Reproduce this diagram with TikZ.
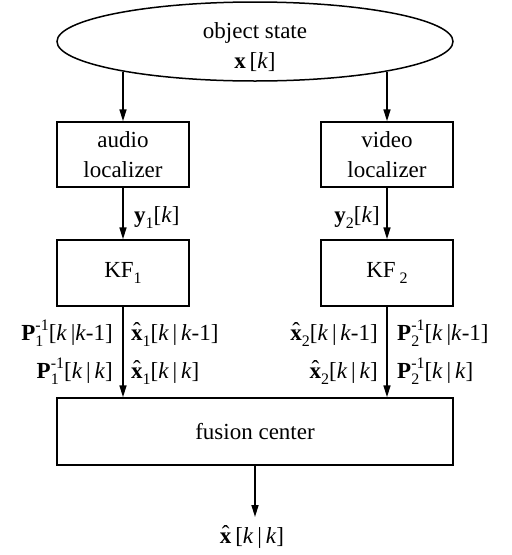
\documentclass[tikz,border=0pt]{standalone}
\usepackage{fontspec}
\setmainfont{Liberation Serif}
\usetikzlibrary{shapes.geometric,arrows.meta}

% small raised / lowered indices in text
\newcommand\lowidx[1]{\raisebox{-0.28em}{\fontsize{16}{16}\selectfont #1}}
\newcommand\Pinv[1]{\textbf{P}\rlap{\lowidx{#1}}\raisebox{0.42em}{\fontsize{16}{16}\selectfont -1}}
% bold x with a circumflex set on top of it
\newcommand\xhat{{\ooalign{\textbf{x}\cr\hidewidth\raisebox{0.08em}{\char"02C6}\hidewidth\cr}}}
\newcommand\kk{\textit{k}}

\begin{document}
\begin{tikzpicture}[x=1pt,y=-1pt,
  every node/.style={font=\fontsize{23}{30}\selectfont},
  blk/.style={draw,line width=1.5pt,minimum width=132pt,inner sep=0pt,align=center},
  lbl/.style={inner sep=0pt},
  flow/.style={line width=1.6pt,-{Triangle[length=12pt,width=7pt]}}]
\useasboundingbox (0,0) rectangle (512,555);

% source ellipse
\node[draw,ellipse,line width=1.5pt,minimum width=396pt,minimum height=79pt,inner sep=0pt] (state) at (255,41.5) {};
\node[align=center,inner sep=0pt] (statetext) at (255,47) {object state\\\textbf{x}\,[\kk]};

% localizers
\node[blk,minimum height=65pt] (audio) at (123,154.5) {audio\\localizer};
\node[blk,minimum height=65pt] (video) at (387,154.5) {video\\localizer};

% Kalman filters
\node[blk,minimum height=66pt] (kf1) at (123,273) {KF\lowidx{1}};
\node[blk,minimum height=66pt] (kf2) at (387,273) {KF\,\lowidx{2}};

% fusion center
\node[draw,line width=1.5pt,minimum width=396pt,minimum height=67pt,inner sep=0pt] (fusion) at (255,431.5) {fusion center};

% output
\coordinate (out) at (255,517);
\node[lbl,anchor=base] (est) at (252,543) {\xhat\,[\kk\,|\,\kk]};

% connectors
\draw[flow] (state.south -| audio.north) ++(0,-10) coordinate (s1) -- (audio.north);
\draw[flow] (state.south -| video.north) ++(0,-10) coordinate (s2) -- (video.north);
\draw[flow] (audio) -- (kf1);
\draw[flow] (video) -- (kf2);
\draw[flow] (kf1.south) -- (kf1.south |- fusion.north);
\draw[flow] (kf2.south) -- (kf2.south |- fusion.north);
\draw[flow] (fusion) -- (out);

% measurement labels
\node[lbl,anchor=base west] (y1) at (134,222) {\textbf{y}\lowidx{1}[\kk]};
\node[lbl,anchor=base east] (y2) at (380,222) {\textbf{y}\lowidx{2}[\kk]};

% filter outputs, left branch
\node[lbl,anchor=base east] (p1a) at (113,340) {\Pinv{1}[\kk\,|\kk-1]};
\node[lbl,anchor=base east] (p1b) at (113,378) {\Pinv{1}[\kk\,|\,\kk]};
\node[lbl,anchor=base west] (x1a) at (131,340) {\xhat\lowidx{1}[\kk\,|\,\kk-1]};
\node[lbl,anchor=base west] (x1b) at (131,378) {\xhat\lowidx{1}[\kk\,|\,\kk]};

% filter outputs, right branch
\node[lbl,anchor=base east] (x2a) at (378,340) {\xhat\lowidx{2}[\kk\,|\,\kk-1]};
\node[lbl,anchor=base east] (x2b) at (378,378) {\xhat\lowidx{2}[\kk\,|\,\kk]};
\node[lbl,anchor=base west] (p2a) at (397,340) {\Pinv{2}[\kk\,|\kk-1]};
\node[lbl,anchor=base west] (p2b) at (397,378) {\Pinv{2}[\kk\,|\,\kk]};
\end{tikzpicture}
\end{document}
